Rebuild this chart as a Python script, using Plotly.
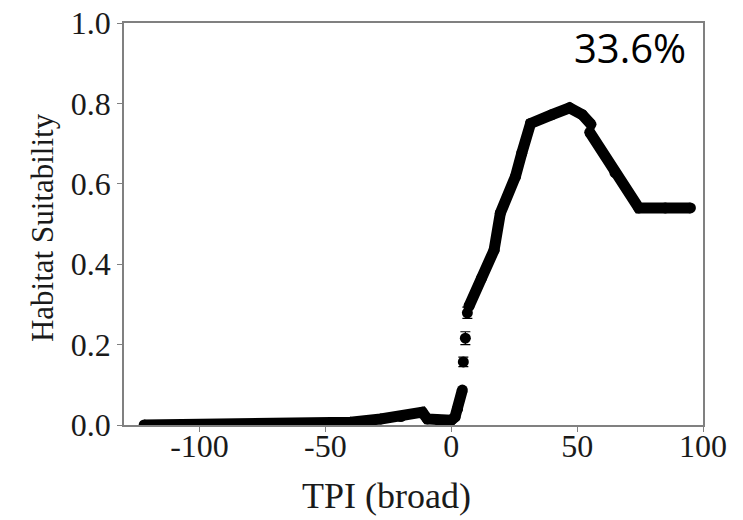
import plotly.graph_objects as go

# Continuous part of the response curve; None = break
curve_x = [-122, -80, -50, -40, -28, -20, -11.5, -9.5, -5, 0, 1.5, 2.5, 4.4, None,
           7, 12, 17, 19.5, 25.5, 28, 31.5, 40, 47, 52, 55.5, None,
           55, 65, 74.5, 85, 95]
curve_y = [0.0, 0.001, 0.003, 0.007, 0.015, 0.021, 0.032, 0.015, 0.012, 0.012, 0.02, 0.04, 0.087, None,
           0.295, 0.365, 0.435, 0.527, 0.618, 0.676, 0.750, 0.772, 0.789, 0.772, 0.748, None,
           0.728, 0.628, 0.540, 0.540, 0.540]

# Isolated points in the steep rise, with their small error bars
dot_x = [4.8, 5.6, 6.4]
dot_y = [0.157, 0.216, 0.279]
dot_err = [0.012, 0.016, 0.014]

x_ticks = [-100, -50, 0, 50, 100]
x_tick_text = ["-100", "-50", "0", "50", "100"]
y_ticks = [0.0, 0.2, 0.4, 0.6, 0.8, 1.0]
y_tick_text = ["0.0", "0.2", "0.4", "0.6", "0.8", "1.0"]

x_title = "TPI (broad)"
y_title = "Habitat Suitability"
label = "33.6%"

serif = "Liberation Serif, Times New Roman, serif"
txt = "#1a1a1a"

fig = go.Figure()
fig.add_trace(go.Scatter(
    x=curve_x, y=curve_y, mode="lines+markers",
    line=dict(color="black", width=11),
    marker=dict(color="black", size=11),
    connectgaps=False, showlegend=False, hoverinfo="x+y"))
fig.add_trace(go.Scatter(
    x=dot_x, y=dot_y, mode="markers",
    marker=dict(color="black", size=11),
    error_y=dict(type="data", array=dot_err, color="black", thickness=1.2, width=5),
    showlegend=False))

axis_common = dict(
    showline=True, linecolor="#808080", linewidth=1.5, mirror=True,
    ticks="outside", ticklen=5, tickwidth=1.2, tickcolor="#808080",
    showgrid=False, zeroline=False, automargin=False, ticklabeloverflow="allow",
    tickfont=dict(family=serif, size=32, color=txt))

# the page body adds an 8 px offset, so margins are reduced accordingly
fig.update_layout(
    width=743, height=520,
    margin=dict(l=116, r=48, t=15, b=103),
    paper_bgcolor="white", plot_bgcolor="white",
    xaxis=dict(range=[-130, 100], tickvals=x_ticks, ticktext=x_tick_text, **axis_common),
    yaxis=dict(range=[0, 1], tickvals=y_ticks, ticktext=y_tick_text, **axis_common),
    annotations=[
        dict(text=x_title, xref="paper", yref="paper", x=0.454, y=-0.177,
             xanchor="center", yanchor="middle", showarrow=False,
             font=dict(family=serif, size=36, color=txt)),
        dict(text=y_title, xref="paper", yref="paper", x=-0.1416, y=0.49,
             xanchor="center", yanchor="middle", textangle=-90, showarrow=False,
             font=dict(family=serif, size=31, color=txt)),
        dict(text=label, xref="paper", yref="paper", x=0.974, y=0.94,
             xanchor="right", yanchor="middle", showarrow=False,
             font=dict(family="Open Sans, Noto Sans, sans-serif", size=40, color="black")),
    ],
)

# bring the x tick labels closer to the axis, as in the reference
try:
    fig.update_xaxes(ticklabelstandoff=-13)
except ValueError:
    pass

fig.write_html("out.html")
